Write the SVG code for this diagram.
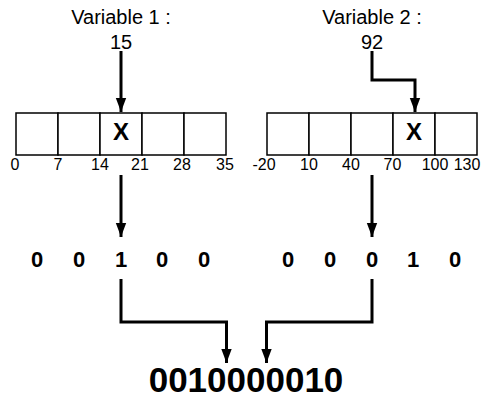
<svg xmlns="http://www.w3.org/2000/svg" width="490" height="398" viewBox="0 0 490 398">
<style>
.t{font-family:"Liberation Sans",Arial,Helvetica,sans-serif;fill:#000;text-anchor:middle}
.lbl{font-size:20px}
.tick{font-size:16px}
.x{font-size:24px;font-weight:bold}
.bit{font-size:22px;font-weight:bold}
.res{font-size:35px;font-weight:bold}
.cell{fill:#fff;stroke:#000;stroke-width:1.5}
.conn{fill:none;stroke:#000;stroke-width:3}
</style>
<defs>
<marker id="ah" markerUnits="userSpaceOnUse" markerWidth="14" markerHeight="19" refX="19" refY="7" orient="auto" viewBox="0 0 19 14">
<path d="M0,0 L19,7 L0,14 Z" fill="#000"/>
</marker>
</defs>
<rect width="490" height="398" fill="#fff"/>
<g id="var1">
<text class="t lbl" x="121" y="24">Variable 1 :</text>
<text class="t lbl" x="121" y="49">15</text>
</g>
<g id="var2">
<text class="t lbl" x="372" y="24">Variable 2 :</text>
<text class="t lbl" x="372" y="49">92</text>
</g>
<g id="scale1">
<rect class="cell" x="16" y="113" width="42" height="42"/>
<rect class="cell" x="58" y="113" width="42" height="42"/>
<rect class="cell" x="100" y="113" width="42" height="42"/>
<rect class="cell" x="142" y="113" width="42" height="42"/>
<rect class="cell" x="184" y="113" width="42" height="42"/>
<text class="t x" x="121" y="140">X</text>
<text class="t tick" x="15" y="170">0</text>
<text class="t tick" x="58" y="170">7</text>
<text class="t tick" x="100" y="170">14</text>
<text class="t tick" x="140" y="170">21</text>
<text class="t tick" x="182" y="170">28</text>
<text class="t tick" x="225" y="170">35</text>
</g>
<g id="scale2">
<rect class="cell" x="267" y="113" width="42" height="42"/>
<rect class="cell" x="309" y="113" width="42" height="42"/>
<rect class="cell" x="351" y="113" width="42" height="42"/>
<rect class="cell" x="393" y="113" width="42" height="42"/>
<rect class="cell" x="435" y="113" width="42" height="42"/>
<text class="t x" x="414" y="140">X</text>
<text class="t tick" x="264" y="170">-20</text>
<text class="t tick" x="309" y="170">10</text>
<text class="t tick" x="351" y="170">40</text>
<text class="t tick" x="392.5" y="170">70</text>
<text class="t tick" x="435" y="170">100</text>
<text class="t tick" x="467" y="170">130</text>
</g>
<g id="bits1">
<text class="t bit" x="37" y="266.5">0</text>
<text class="t bit" x="79" y="266.5">0</text>
<text class="t bit" x="121" y="266.5">1</text>
<text class="t bit" x="162" y="266.5">0</text>
<text class="t bit" x="204" y="266.5">0</text>
</g>
<g id="bits2">
<text class="t bit" x="288" y="266.5">0</text>
<text class="t bit" x="330" y="266.5">0</text>
<text class="t bit" x="372" y="266.5">0</text>
<text class="t bit" x="413" y="266.5">1</text>
<text class="t bit" x="455" y="266.5">0</text>
</g>
<g id="result">
<text class="t res" x="246" y="392">0010000010</text>
</g>
<g id="connectors">
<path class="conn" d="M121,51 V112" marker-end="url(#ah)"/>
<path class="conn" d="M372,51 V80 H415 V112" marker-end="url(#ah)"/>
<path class="conn" d="M121,175 V237" marker-end="url(#ah)"/>
<path class="conn" d="M372,175 V237" marker-end="url(#ah)"/>
<path class="conn" d="M121,279 V322 H226.5 V363" marker-end="url(#ah)"/>
<path class="conn" d="M372,279 V322 H266.5 V363" marker-end="url(#ah)"/>
</g>
</svg>
